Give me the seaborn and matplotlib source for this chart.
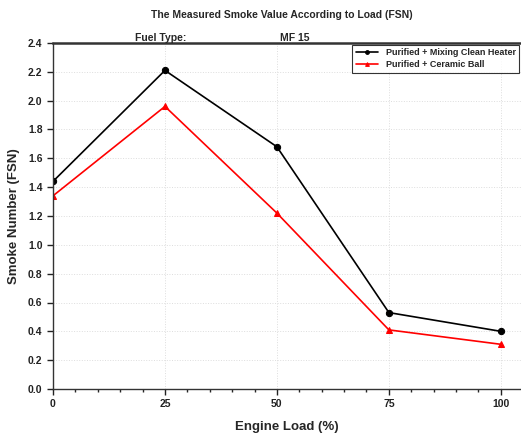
import matplotlib
matplotlib.use("Agg")
import matplotlib.pyplot as plt
from matplotlib.ticker import MultipleLocator
import seaborn as sns
import pandas as pd

loads = [0, 25, 50, 75, 100]
mixing_heater = [1.44, 2.21, 1.68, 0.53, 0.40]
ceramic_ball = [1.34, 1.96, 1.22, 0.41, 0.31]
series_names = ["Purified + Mixing Clean Heater", "Purified + Ceramic Ball"]
colors = ["black", "red"]

df = pd.concat([
    pd.DataFrame({"load": loads, "fsn": mixing_heater, "series": series_names[0]}),
    pd.DataFrame({"load": loads, "fsn": ceramic_ball, "series": series_names[1]}),
])

sns.set_style("ticks")
plt.rcParams["font.family"] = ["Liberation Sans", "DejaVu Sans"]
plt.rcParams["font.weight"] = "bold"

fig = plt.figure(figsize=(5.21, 4.40), dpi=100)
ax = fig.add_axes([53/521, 1-389/440, (521-53)/521, (389-43)/440])

for name, col, mk in zip(series_names, colors, ["o", "^"]):
    sub = df[df["series"] == name]
    sns.lineplot(data=sub, x="load", y="fsn", ax=ax, color=col, marker=mk,
                 markersize=4.5, markeredgecolor=col, linewidth=1.2, label=name)

ax.set_xlim(0, 104.5)
ax.set_ylim(0, 2.4)
ax.set_xticks(loads)
ax.xaxis.set_minor_locator(MultipleLocator(5))
ax.yaxis.set_major_locator(MultipleLocator(0.2))
ax.yaxis.set_major_formatter(matplotlib.ticker.FormatStrFormatter("%.1f"))
ax.tick_params(axis="both", which="major", direction="out", length=4, width=1,
               labelsize=7.5, colors="#222222")
ax.tick_params(axis="x", which="minor", direction="out", length=2.5, width=1)
for lab in ax.get_xticklabels() + ax.get_yticklabels():
    lab.set_fontweight("bold")
ax.grid(True, which="major", linestyle=":", color="#dddddd", linewidth=0.7)
for s in ax.spines.values():
    s.set_linewidth(1.0)
    s.set_color("#333333")
ax.spines["top"].set_linewidth(1.8)
ax.spines["right"].set_visible(False)

ax.set_xlabel("Engine Load (%)", fontsize=9.5, fontweight="bold", labelpad=8)
ax.set_ylabel("Smoke Number (FSN)", fontsize=9.5, fontweight="bold", labelpad=6)

fig.text(0.54, 1-15/440, "The Measured Smoke Value According to Load (FSN)",
         ha="center", va="center", fontsize=7.5, fontweight="bold")
fig.text(135/521, 1-38/440, "Fuel Type:", ha="left", va="center", fontsize=7.5, fontweight="bold")
fig.text(280/521, 1-38/440, "MF 15", ha="left", va="center", fontsize=7.5, fontweight="bold")

leg = ax.legend(loc="upper right", fontsize=6.5, frameon=True, fancybox=False,
                edgecolor="black", handlelength=2.5, borderpad=0.4,
                labelspacing=0.3, borderaxespad=0.2, markerscale=0.6)
leg.get_frame().set_linewidth(0.8)

fig.savefig("out.png", dpi=100)
